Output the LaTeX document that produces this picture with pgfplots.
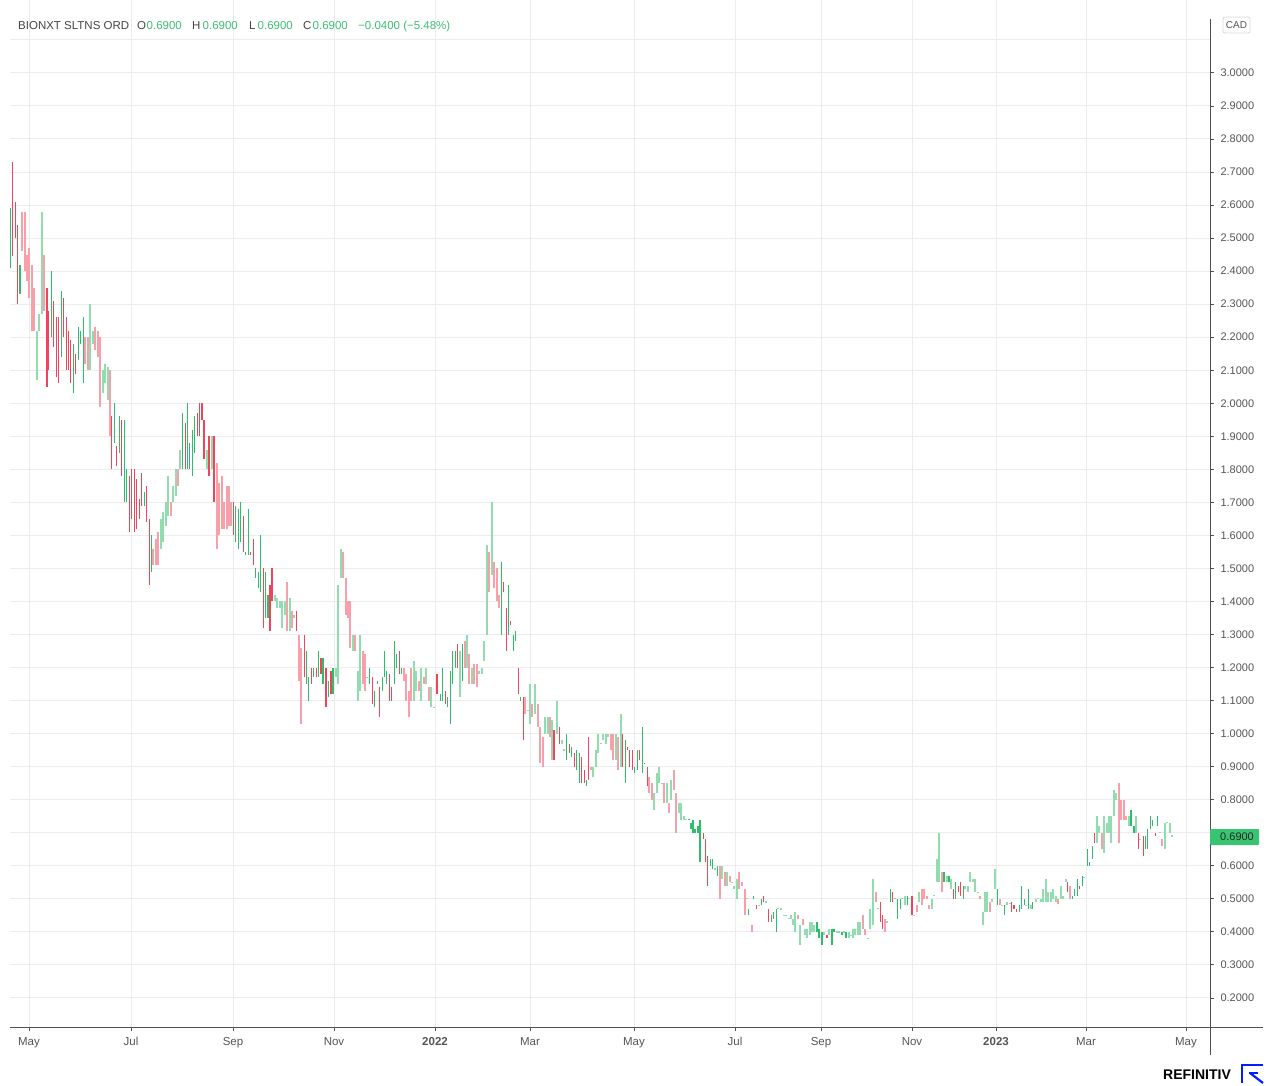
\documentclass[border=0pt]{standalone}
\usepackage{fontspec}
\setmainfont{Liberation Sans}
\usepackage{pgfplots}
\usepackage{pgfplotstable}
\pgfplotsset{compat=1.18}
\definecolor{gdark}{RGB}{46,189,106}
\definecolor{glight}{RGB}{146,221,176}
\definecolor{rdark}{RGB}{240,68,90}
\definecolor{rlight}{RGB}{247,160,170}
\definecolor{gridc}{RGB}{236,236,236}
\definecolor{axc}{RGB}{80,80,80}
\definecolor{labc}{RGB}{85,85,85}
\definecolor{hdrgray}{RGB}{70,70,70}
\definecolor{hdrgreen}{RGB}{60,190,115}
\definecolor{pricebox}{RGB}{56,196,112}
\definecolor{refblue}{RGB}{0,30,255}

% green, dark
\pgfplotstableread{
x lo hi
10.3 2.41 2.59
20.0 2.33 2.42
51.7 2.20 2.40
61.3 2.14 2.34
73.3 2.03 2.18
78.3 2.13 2.23
80.3 2.18 2.22
83.3 2.06 2.26
114.7 1.88 2.00
119.3 1.85 1.96
124.3 1.70 1.95
126.3 1.70 1.80
144.3 1.69 1.73
151.3 1.49 1.60
182.3 1.80 1.97
187.3 1.80 2.00
189.3 1.80 1.88
192.3 1.78 1.92
194.3 1.85 1.96
235.7 1.58 1.69
238.7 1.56 1.68
240.7 1.58 1.70
245.7 1.54 1.55
248.7 1.54 1.68
255.3 1.47 1.50
258.3 1.44 1.49
260.3 1.43 1.60
265.3 1.35 1.49
268.0 1.35 1.42
306.3 1.15 1.25
308.3 1.10 1.17
313.3 1.17 1.20
318.3 1.17 1.25
323.0 1.15 1.23
328.3 1.11 1.16
333.0 1.12 1.20
369.3 1.15 1.20
374.3 1.08 1.13
377.3 1.15 1.16
382.3 1.13 1.17
384.3 1.17 1.25
386.7 1.15 1.19
394.3 1.15 1.28
396.3 1.20 1.24
401.3 1.18 1.20
440.3 1.10 1.12
442.3 1.10 1.20
447.3 1.08 1.11
450.3 1.03 1.19
452.3 1.15 1.25
455.3 1.20 1.25
462.3 1.16 1.27
501.3 1.30 1.52
508.3 1.30 1.45
513.3 1.25 1.30
515.3 1.28 1.31
520.3 1.10 1.11
566.3 0.92 1.00
571.3 0.93 0.96
576.3 0.89 0.95
579.3 0.85 0.94
586.3 0.84 0.86
625.7 0.85 0.98
634.7 0.88 0.90
637.7 0.89 0.95
642.3 0.88 1.02
644.3 0.908 0.912
689.0 0.738 0.742
691.0 0.71 0.73
693.0 0.70 0.74
695.0 0.70 0.71
698.0 0.70 0.72
700.0 0.61 0.74
710.3 0.60 0.62
712.3 0.59 0.62
717.3 0.57 0.60
748.7 0.45 0.47
753.7 0.50 0.51
761.3 0.48 0.50
771.3 0.43 0.45
773.3 0.44 0.46
776.3 0.40 0.47
817.0 0.40 0.43
819.0 0.38 0.41
822.0 0.36 0.40
832.0 0.36 0.41
834.0 0.40 0.41
842.0 0.39 0.40
846.0 0.38 0.40
890.3 0.49 0.53
897.3 0.44 0.50
900.3 0.47 0.50
907.3 0.48 0.51
944.0 0.55 0.58
949.0 0.55 0.57
955.3 0.50 0.55
963.3 0.50 0.54
997.3 0.48 0.53
1004.7 0.45 0.48
1019.3 0.46 0.48
1021.3 0.47 0.54
1024.3 0.48 0.50
1028.7 0.47 0.53
1032.7 0.47 0.49
1072.7 0.50 0.51
1074.7 0.51 0.53
1077.3 0.51 0.56
1082.3 0.54 0.57
1087.3 0.60 0.65
1089.3 0.60 0.61
1092.3 0.62 0.66
1131.0 0.72 0.77
1134.0 0.70 0.72
1145.3 0.65 0.69
1147.3 0.65 0.71
1150.3 0.71 0.75
1152.3 0.72 0.74
1157.3 0.72 0.75
}\gdtab

% green, light
\pgfplotstableread{
x lo hi
37.0 2.07 2.22
39.0 2.22 2.27
42.0 2.27 2.58
90.0 2.10 2.30
93.3 2.18 2.22
102.7 2.03 2.10
104.7 2.06 2.12
107.7 2.01 2.11
161.0 1.56 1.65
163.0 1.58 1.67
165.7 1.63 1.70
168.0 1.66 1.78
173.0 1.70 1.75
175.7 1.72 1.80
180.3 1.80 1.86
207.0 1.80 1.86
211.7 1.80 1.90
275.0 1.40 1.42
276.7 1.38 1.41
279.7 1.38 1.40
281.7 1.32 1.40
284.7 1.36 1.40
289.7 1.31 1.41
294.3 1.35 1.36
336.0 1.17 1.20
338.0 1.15 1.45
341.0 1.47 1.56
352.7 1.25 1.30
357.7 1.10 1.19
359.7 1.13 1.30
367.3 1.168 1.172
414.0 1.10 1.22
416.0 1.13 1.19
421.0 1.10 1.20
426.0 1.15 1.20
431.0 1.08 1.14
434.0 1.078 1.082
460.3 1.11 1.25
467.3 1.20 1.30
472.3 1.15 1.20
479.3 1.18 1.19
482.0 1.18 1.20
483.7 1.22 1.28
486.7 1.30 1.57
491.7 1.48 1.70
528.3 1.068 1.072
530.3 1.03 1.15
535.3 1.06 1.15
545.0 1.00 1.05
547.7 1.00 1.05
552.0 0.92 1.04
556.7 1.00 1.10
561.7 0.97 0.98
564.3 0.948 0.952
593.0 0.87 0.90
596.0 0.90 0.95
598.0 0.94 1.00
601.0 0.968 0.972
603.0 0.98 1.00
606.0 0.97 1.00
608.0 0.99 1.00
616.0 0.92 1.00
620.7 0.90 1.06
654.3 0.77 0.82
657.0 0.82 0.88
659.0 0.85 0.90
662.0 0.848 0.852
667.0 0.79 0.85
671.3 0.80 0.86
679.0 0.76 0.79
681.0 0.74 0.79
684.0 0.74 0.75
686.0 0.738 0.742
715.3 0.588 0.592
722.3 0.56 0.60
727.3 0.54 0.58
732.3 0.548 0.552
734.3 0.53 0.54
737.3 0.50 0.56
746.7 0.498 0.502
758.7 0.478 0.482
766.3 0.488 0.492
778.3 0.468 0.472
781.3 0.465 0.472
783.7 0.448 0.452
785.7 0.448 0.452
788.7 0.438 0.442
790.7 0.44 0.45
792.7 0.42 0.44
795.0 0.40 0.46
800.0 0.36 0.42
805.0 0.39 0.41
807.0 0.38 0.41
809.7 0.39 0.43
811.7 0.40 0.43
814.0 0.40 0.42
824.0 0.39 0.40
829.0 0.39 0.41
837.0 0.398 0.402
839.0 0.398 0.402
844.0 0.398 0.402
849.0 0.38 0.40
851.0 0.388 0.392
853.3 0.38 0.41
855.3 0.39 0.41
858.3 0.39 0.43
860.3 0.39 0.43
867.7 0.378 0.382
870.3 0.41 0.47
872.7 0.42 0.56
877.7 0.468 0.472
887.3 0.428 0.432
895.3 0.498 0.502
902.3 0.498 0.502
905.3 0.48 0.51
909.3 0.498 0.502
914.0 0.448 0.452
919.0 0.49 0.52
932.0 0.47 0.50
934.0 0.508 0.512
937.0 0.55 0.62
939.0 0.55 0.70
947.0 0.55 0.57
951.0 0.53 0.56
965.3 0.53 0.54
968.3 0.52 0.54
970.3 0.55 0.58
973.3 0.55 0.56
975.3 0.52 0.56
978.3 0.518 0.522
983.3 0.42 0.46
985.3 0.46 0.52
987.3 0.46 0.52
992.3 0.49 0.50
995.3 0.53 0.59
1002.0 0.478 0.482
1007.0 0.48 0.49
1009.7 0.483 0.487
1026.3 0.478 0.482
1030.7 0.47 0.48
1035.7 0.49 0.50
1037.7 0.498 0.502
1040.7 0.49 0.50
1042.7 0.49 0.53
1045.7 0.49 0.56
1047.7 0.49 0.52
1050.7 0.49 0.52
1052.7 0.50 0.53
1055.7 0.49 0.51
1060.7 0.50 0.54
1062.7 0.50 0.51
1065.7 0.55 0.56
1084.3 0.563 0.567
1097.0 0.67 0.75
1099.0 0.70 0.72
1104.0 0.64 0.75
1107.0 0.70 0.73
1109.0 0.70 0.75
1111.0 0.67 0.75
1114.0 0.75 0.83
1116.0 0.80 0.82
1129.0 0.72 0.75
1136.0 0.70 0.75
1140.3 0.678 0.682
1160.3 0.698 0.702
1165.3 0.65 0.73
1167.3 0.728 0.732
1170.3 0.70 0.73
1172.3 0.688 0.692
}\gltab

% red, dark
\pgfplotstableread{
x lo hi
12.3 2.447 2.73
15.3 2.50 2.61
17.3 2.30 2.54
47.0 2.05 2.35
48.7 2.10 2.28
53.7 2.17 2.31
56.7 2.08 2.26
58.7 2.06 2.26
63.3 2.20 2.32
66.3 2.10 2.26
68.3 2.10 2.22
70.3 2.06 2.19
75.3 2.09 2.15
111.7 1.80 1.96
116.7 1.81 1.87
121.3 1.78 1.95
129.3 1.61 1.78
131.3 1.65 1.80
134.3 1.61 1.80
136.3 1.62 1.77
139.3 1.65 1.71
141.3 1.69 1.79
146.3 1.64 1.75
149.3 1.45 1.65
185.3 1.80 1.94
197.3 1.90 1.97
199.3 1.90 2.00
202.0 1.95 2.00
204.0 1.83 1.95
209.0 1.78 1.90
214.0 1.70 1.90
233.3 1.60 1.70
243.7 1.55 1.66
250.3 1.54 1.55
253.3 1.51 1.59
263.3 1.32 1.50
270.0 1.31 1.45
272.0 1.40 1.50
296.7 1.31 1.37
304.3 1.17 1.30
311.3 1.15 1.20
316.3 1.17 1.20
321.0 1.18 1.23
326.0 1.08 1.20
331.0 1.12 1.19
372.3 1.09 1.17
379.3 1.05 1.14
389.3 1.10 1.18
391.3 1.10 1.14
399.3 1.18 1.25
437.0 1.12 1.18
445.3 1.09 1.13
457.3 1.20 1.27
503.3 1.43 1.46
506.3 1.25 1.38
510.3 1.33 1.34
518.3 1.12 1.20
523.3 0.98 1.11
554.0 0.92 1.01
559.7 0.97 1.02
569.3 0.94 0.97
574.3 0.90 0.94
581.3 0.85 0.93
584.3 0.85 0.89
588.3 0.86 0.99
622.7 0.90 1.00
627.7 0.95 0.96
629.7 0.90 0.95
632.7 0.89 0.95
639.3 0.92 0.95
647.3 0.84 0.90
703.3 0.68 0.70
705.3 0.61 0.68
707.3 0.54 0.63
756.7 0.47 0.48
763.3 0.49 0.51
768.3 0.43 0.47
827.0 0.38 0.39
880.3 0.43 0.49
882.7 0.41 0.45
892.3 0.49 0.52
912.0 0.45 0.51
953.3 0.50 0.53
958.3 0.52 0.54
960.3 0.51 0.55
1011.3 0.46 0.49
1014.0 0.47 0.48
1016.3 0.46 0.47
1067.7 0.52 0.55
1079.3 0.53 0.54
1094.3 0.67 0.70
1138.3 0.65 0.70
1143.3 0.63 0.69
1155.3 0.69 0.70
}\rdtab

% red, light
\pgfplotstableread{
x lo hi
22.3 2.46 2.58
25.0 2.40 2.58
27.0 2.37 2.45
29.0 2.32 2.47
32.0 2.22 2.42
33.7 2.22 2.35
43.7 2.28 2.45
85.3 2.12 2.20
88.3 2.10 2.20
95.0 2.16 2.23
97.7 2.14 2.22
99.7 1.99 2.20
109.7 1.90 2.10
153.3 1.51 1.56
155.7 1.51 1.59
158.0 1.51 1.61
170.7 1.66 1.70
177.7 1.75 1.80
216.7 1.56 1.82
218.7 1.60 1.76
221.7 1.62 1.78
223.7 1.62 1.70
226.7 1.62 1.75
228.7 1.63 1.75
230.7 1.63 1.70
286.7 1.31 1.46
291.7 1.32 1.37
299.3 1.16 1.30
301.3 1.03 1.26
343.0 1.47 1.55
346.0 1.36 1.47
347.7 1.35 1.40
349.7 1.26 1.40
354.7 1.25 1.30
362.7 1.15 1.25
364.7 1.13 1.24
404.0 1.16 1.20
406.0 1.10 1.18
409.0 1.05 1.13
411.0 1.10 1.20
419.0 1.13 1.16
424.0 1.15 1.17
429.0 1.10 1.14
465.3 1.20 1.28
469.3 1.15 1.24
474.3 1.15 1.21
477.0 1.14 1.21
488.7 1.43 1.55
493.7 1.44 1.52
496.7 1.40 1.50
498.7 1.38 1.42
525.3 1.06 1.11
532.3 1.05 1.09
538.0 1.02 1.09
540.0 0.91 1.02
543.0 0.90 0.99
549.7 0.99 1.05
591.0 0.89 0.90
611.0 0.95 1.00
613.0 0.92 1.00
618.0 0.89 0.99
649.3 0.82 0.87
652.3 0.80 0.85
664.0 0.79 0.85
669.0 0.76 0.79
674.0 0.83 0.89
676.0 0.70 0.82
720.3 0.50 0.60
725.3 0.54 0.58
730.3 0.55 0.57
739.3 0.53 0.58
741.7 0.54 0.55
744.7 0.45 0.53
751.7 0.40 0.42
797.7 0.44 0.45
802.7 0.42 0.44
863.3 0.41 0.45
865.3 0.39 0.41
875.7 0.49 0.52
885.3 0.40 0.44
917.0 0.46 0.48
922.0 0.48 0.53
924.0 0.50 0.53
927.0 0.50 0.51
929.0 0.47 0.48
942.0 0.52 0.58
980.3 0.50 0.51
990.3 0.46 0.49
1000.0 0.48 0.50
1057.7 0.485 0.50
1069.7 0.50 0.54
1102.0 0.65 0.70
1119.0 0.67 0.85
1121.0 0.74 0.80
1124.0 0.74 0.80
1126.0 0.74 0.75
1162.3 0.66 0.68
}\rltab

\pgfplotsset{
  bars/.style 2 args={draw=none, mark=none, forget plot,
    error bars/.cd, y dir=plus, y explicit, error mark=none,
    error bar style={draw=#1, line width=#2, line cap=butt}},
}

\begin{document}
\begin{tikzpicture}[x=1pt,y=1pt]
\path[use as bounding box] (0,0) rectangle (1273,1085);
\begin{axis}[
  at={(10pt,58pt)}, anchor=south west,
  width=1200pt, height=1027pt, scale only axis,
  xmin=10, xmax=1210, ymin=0.1120, ymax=3.2207,
  axis line style={draw=none},
  xtick pos=bottom, ytick pos=right, yticklabel pos=right,
  tick align=outside,
  major tick length=4pt,
  major tick style={draw=axc, line width=0.8pt},
  grid=major,
  grid style={draw=gridc, line width=1pt},
  xtick={29,131,233,334,435,530,634,735,821,912,996,1086,1186},
  xticklabels={May,Jul,Sep,Nov,\textbf{2022},Mar,May,Jul,Sep,Nov,\textbf{2023},Mar,May},
  ytick={0.2,0.3,0.4,0.5,0.6,0.7,0.8,0.9,1.0,1.1,1.2,1.3,1.4,1.5,1.6,1.7,1.8,1.9,2.0,2.1,2.2,2.3,2.4,2.5,2.6,2.7,2.8,2.9,3.0},
  yticklabels={0.2000,0.3000,0.4000,0.5000,0.6000,,0.8000,0.9000,1.0000,1.1000,1.2000,1.3000,1.4000,1.5000,1.6000,1.7000,1.8000,1.9000,2.0000,2.1000,2.2000,2.3000,2.4000,2.5000,2.6000,2.7000,2.8000,2.9000,3.0000},
  extra y ticks={3.1},
  extra y tick labels={},
  extra y tick style={grid=major, major tick length=0pt},
  yticklabel style={font=\fontsize{11}{11}\selectfont, text=labc, anchor=west, xshift=3pt},
  xticklabel style={font=\fontsize{11.5}{11.5}\selectfont, text=labc, yshift=-3pt},
  clip=true,
]
\addplot[bars={glight}{2pt}] table[x=x, y=lo, y error expr=\thisrow{hi}-\thisrow{lo}] \gltab;
\addplot[bars={rlight}{2pt}] table[x=x, y=lo, y error expr=\thisrow{hi}-\thisrow{lo}] \rltab;
\addplot[bars={gdark}{1.3pt}] table[x=x, y=lo, y error expr=\thisrow{hi}-\thisrow{lo}] \gdtab;
\addplot[bars={rdark}{1.3pt}] table[x=x, y=lo, y error expr=\thisrow{hi}-\thisrow{lo}] \rdtab;
\end{axis}

% axis lines
\draw[axc, line width=1pt] (10,58) -- (1263,58);
\draw[axc, line width=1pt] (1210,1066) -- (1210,30);

% price label
\fill[pricebox, rounded corners=1pt] (1210,240) rectangle (1259,256);
\node[anchor=west, inner sep=0pt, font=\fontsize{11}{11}\selectfont, text=black!85] at (1220,248) {0.6900};

% currency box
\draw[draw=black!15, line width=0.8pt, rounded corners=2pt, fill=white] (1223,1052) rectangle (1250,1068);
\node[inner sep=0pt, font=\fontsize{10}{10}\selectfont, text=labc] at (1236.5,1060) {CAD};

% header
\begin{scope}[every node/.style={anchor=base west, inner sep=0pt, font=\fontsize{11.5}{11.5}\selectfont}]
\node[text=hdrgray] at (18,1055.7) {BIONXT SLTNS ORD};
\node[text=hdrgray] at (137,1055.7) {O};
\node[text=hdrgreen] at (146.5,1055.7) {0.6900};
\node[text=hdrgray] at (192,1055.7) {H};
\node[text=hdrgreen] at (202.5,1055.7) {0.6900};
\node[text=hdrgray] at (249,1055.7) {L};
\node[text=hdrgreen] at (257.5,1055.7) {0.6900};
\node[text=hdrgray] at (303,1055.7) {C};
\node[text=hdrgreen] at (312.5,1055.7) {0.6900};
\node[text=hdrgreen] at (358,1055.7) {−0.0400 (−5.48\%)};
\end{scope}

% Refinitiv logo
\node[anchor=base west, inner sep=0pt, font=\fontsize{14}{14}\selectfont\bfseries, text=black] at (1163,6) {REFINITIV};
\draw[refblue, line width=2.4pt, line cap=butt] (1242,2) -- (1242,20) -- (1263,20);
\draw[refblue, line width=2.2pt] (1263,2) -- (1250,12);
\draw[refblue, line width=2.2pt] (1249,12) -- (1258,12);
\end{tikzpicture}
\end{document}
